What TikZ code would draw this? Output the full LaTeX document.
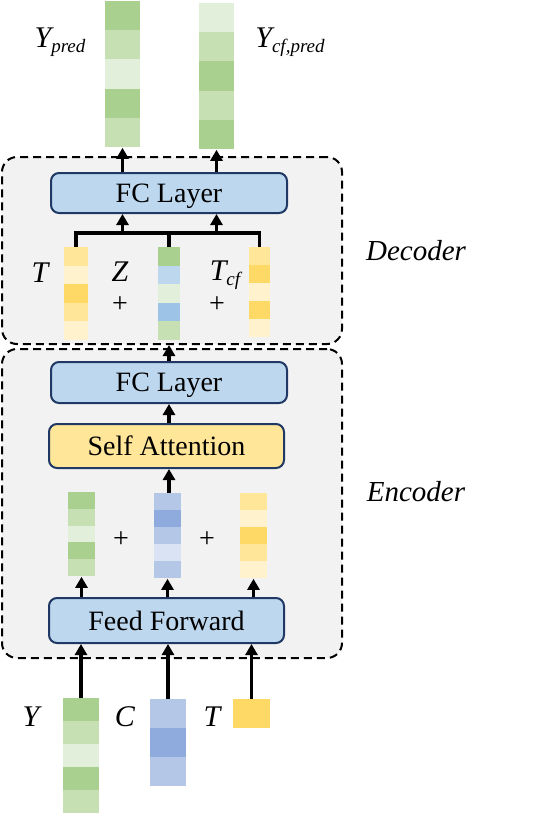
\documentclass[tikz,border=0pt]{standalone}
\usepackage{fontspec}
\setmainfont{Liberation Serif}
\usepackage{tikz}
\usetikzlibrary{arrows.meta,positioning,calc}

\definecolor{grnD}{HTML}{A9D08E}
\definecolor{grnM}{HTML}{C6E0B4}
\definecolor{grnL}{HTML}{E2EFDA}
\definecolor{ylwD}{HTML}{FFD966}
\definecolor{ylwM}{HTML}{FFE699}
\definecolor{ylwL}{HTML}{FFF2CC}
\definecolor{bluL}{HTML}{BDD7EE}
\definecolor{bluZ}{HTML}{9DC3E6}
\definecolor{bluA}{HTML}{B4C7E7}
\definecolor{bluB}{HTML}{8FAADC}
\definecolor{bluC}{HTML}{DAE3F3}
\definecolor{navy}{HTML}{1F3864}
\definecolor{panel}{HTML}{F2F2F2}

% smaller, lowered subscript text
\newcommand{\lowtext}[1]{\raisebox{-2.5pt}{\fontsize{9.5}{10}\selectfont #1}}

% column of coloured cells: name, top-centre, width, cell height, colours
\newcommand{\colbar}[5]{%
  \coordinate (#1-top) at #2;
  \foreach \col [count=\k] in {#5} {
    \fill[fill=\col] ($(#1-top)+({-#3/2},{(\k-1)*#4})$) rectangle ++(#3,#4);
    \xdef\ncells{\k}
  }
  \node[inner sep=0pt, minimum width=#3*0.5pt, minimum height=\ncells*#4*0.5pt, anchor=north] (#1) at (#1-top) {};
}

\begin{document}
\begin{tikzpicture}[
    x=0.5pt, y=-0.5pt,
    layer/.style={rectangle, draw=navy, line width=1pt, rounded corners=4pt, fill=bluL, minimum width=118pt, inner sep=0pt, text depth=0pt, font=\fontsize{14}{16}\selectfont},
    groupbox/.style={rectangle, draw, dash pattern=on 4pt off 2.5pt, line width=1pt, rounded corners=7.5pt, fill=panel, minimum width=170pt},
    lbl/.style={inner sep=0pt, font=\fontsize{15}{17}\selectfont\itshape},
    plus/.style={inner sep=0pt, font=\fontsize{14}{16}\selectfont},
    arrow/.style={-{Triangle[length=5.5pt,width=6pt]}, line width=1.6pt},
    bus/.style={line width=1.6pt}
]
\useasboundingbox (0,0) rectangle (559,815);

% panels
\node[groupbox, minimum height=93.5pt] (decbox) at (172,250.5) {};
\node[groupbox, minimum height=154.5pt] (encbox) at (172,503.5) {};
\node[lbl, font=\fontsize{14.5}{17}\selectfont\itshape] (declbl) at (416,251) {Decoder};
\node[lbl, font=\fontsize{14.5}{17}\selectfont\itshape] (enclbl) at (416,492) {Encoder};

% outputs
\colbar{ypred}{(122.5,1)}{35}{29.2}{grnD,grnM,grnL,grnD,grnM}
\colbar{ycf}{(216.5,3)}{35}{29.2}{grnL,grnM,grnD,grnM,grnD}
\node[lbl] (lpred) at (60,42) {Y\lowtext{pred}};
\node[lbl] (lcf) at (290,42) {Y\lowtext{cf,pred}};

% decoder
\node[layer, minimum height=20pt] (dfc) at (169,193) {FC Layer};
\colbar{dT}{(76,247)}{24}{18.6}{ylwM,ylwL,ylwD,ylwM,ylwL}
\colbar{dZ}{(169,247)}{22}{18.6}{grnD,bluL,grnL,bluZ,grnM}
\colbar{dTcf}{(259.5,247)}{21}{18}{ylwM,ylwD,ylwL,ylwD,ylwL}
\node[lbl] (lT) at (40,273) {T};
\node[lbl] (lZ) at (120,272) {Z};
\node[lbl] (lTcf) at (225,275) {T\lowtext{cf}};
\node[plus] (p1) at (120,305) {+};
\node[plus] (p2) at (217,305) {+};
\coordinate (bus) at (0,233);

\draw[bus] (dT.north) |- (dTcf.north |- bus) -- (dTcf.north);
\draw[bus] (dZ.north) -- (dZ.north |- bus);
\draw[arrow] (ypred.south |- bus) -- (ypred.south |- dfc.south);
\draw[arrow] (ycf.south |- bus) -- (ycf.south |- dfc.south);
\draw[arrow] (ypred.south |- dfc.north) -- (ypred.south);
\draw[arrow] (ycf.south |- dfc.north) -- (ycf.south);

% encoder
\node[layer, minimum height=20.5pt] (efc) at (169,382.5) {FC Layer};
\node[layer, fill=ylwM, minimum width=117.5pt, minimum height=22pt] (satt) at (166.5,446) {Self Attention};
\colbar{eY}{(81.5,492)}{27}{16.8}{grnD,grnM,grnL,grnD,grnM}
\colbar{eC}{(167.5,493)}{27}{17}{bluA,bluB,bluA,bluC,bluA}
\colbar{eT}{(253.5,493)}{27}{17}{ylwM,ylwL,ylwD,ylwM,ylwL}
\node[plus] (p3) at (121,540) {+};
\node[plus] (p4) at (207,540) {+};
\node[layer, minimum width=117.5pt, minimum height=22.5pt] (ffwd) at (166.5,620.5) {Feed Forward};

\draw[arrow] (efc.north) -- (efc.north |- decbox.south);
\draw[arrow] (satt.north -| efc) -- (efc.south);
\draw[arrow] (eC.north -| efc) -- (satt.south -| efc);
\foreach \b in {eY,eC,eT}
  \draw[arrow] (\b.south |- ffwd.north) -- (\b.south);

% inputs
\colbar{inY}{(81,698)}{36}{23}{grnD,grnM,grnL,grnD,grnM}
\colbar{inC}{(168,699)}{36}{29}{bluA,bluB,bluA}
\colbar{inT}{(251.5,699)}{37}{29}{ylwD}
\node[lbl] (lY) at (31,717) {Y};
\node[lbl] (lC) at (125,717) {C};
\node[lbl] (lTin) at (212,717) {T};

\draw[arrow] (inY.north) -- (inY.north |- ffwd.south);
\draw[arrow] (inC.north) -- (inC.north |- ffwd.south);
\draw[arrow] (inT.north) -- (inT.north |- ffwd.south);
\end{tikzpicture}
\end{document}
